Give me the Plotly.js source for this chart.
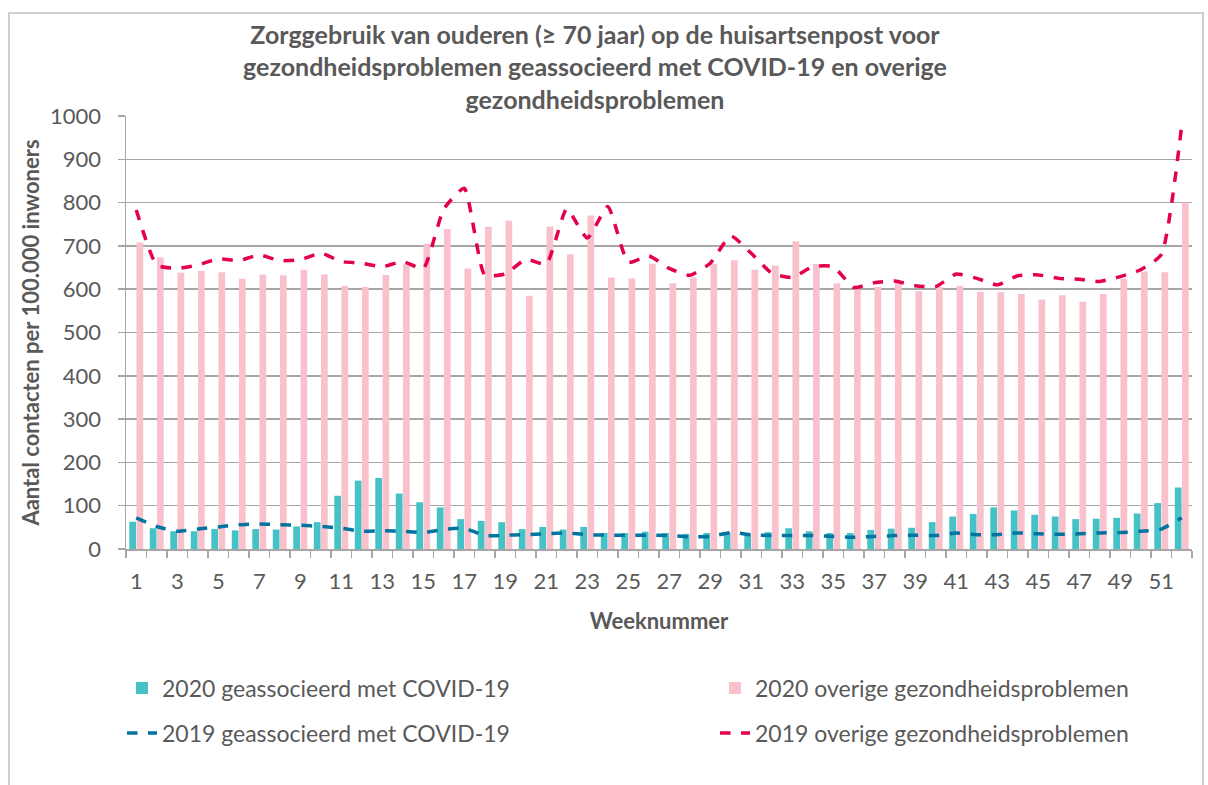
<!DOCTYPE html>
<html>
<head>
<meta charset="utf-8">
<script src="https://cdn.plot.ly/plotly-3.0.1.min.js"></script>
<style>html,body{margin:0;padding:0;background:#fff;}#chart{width:1208px;height:785px;}</style>
</head>
<body>
<div id="chart"></div>
<script>
const weeks = [1,2,3,4,5,6,7,8,9,10,11,12,13,14,15,16,17,18,19,20,21,22,23,24,25,26,27,28,29,30,31,32,33,34,35,36,37,38,39,40,41,42,43,44,45,46,47,48,49,50,51,52];
const tickWeeks = [1,3,5,7,9,11,13,15,17,19,21,23,25,27,29,31,33,35,37,39,41,43,45,47,49,51];

const covid2020 = [63,48,41,41,46,43,46,45,52,62,123,158,164,128,108,96,69,65,62,46,51,45,51,37,37,40,37,35,37,38,33,39,48,41,37,37,44,47,49,62,75,81,96,89,79,75,69,70,72,82,106,142];
const overige2020 = [708,673,638,642,639,624,634,632,645,634,608,605,633,658,705,739,648,744,758,585,745,681,770,627,625,659,614,627,658,667,645,655,711,658,614,600,605,615,595,605,608,594,593,589,576,586,571,589,624,641,639,800];
const covid2019 = [72,52,41,46,51,56,58,56,55,52,48,41,42,41,38,45,48,31,32,33,35,37,33,32,32,32,31,28,29,38,33,31,31,31,29,27,29,31,32,31,37,33,33,37,35,34,35,37,38,41,46,72];
const overige2019 = [783,656,648,656,670,666,679,666,668,683,664,660,652,664,648,785,833,633,635,669,658,785,718,791,662,677,648,632,660,723,683,637,627,652,652,604,615,619,608,606,635,625,610,631,633,625,623,618,629,645,680,979];

const names = ["2020 geassocieerd met COVID-19","2020 overige gezondheidsproblemen","2019 geassocieerd met COVID-19","2019 overige gezondheidsproblemen"];
const titleText = "Zorggebruik van ouderen (≥ 70 jaar) op de huisartsenpost voor<br>gezondheidsproblemen geassocieerd met COVID-19 en overige<br>gezondheidsproblemen";

const FONT = "Lato, 'Open Sans', sans-serif";
const GREY = "#595959";
const GRID = "#A6A6A6";

const traces = [
  {type:"bar", x:weeks, y:covid2020, name:names[0], marker:{color:"#45C2C5"}, legend:"legend"},
  {type:"bar", x:weeks, y:overige2020, name:names[1], marker:{color:"#F8C1CC"}, legend:"legend"},
  {type:"scatter", mode:"lines", x:weeks, y:covid2019, name:names[2], line:{color:"#0073A0", width:3.5, dash:"dash", shape:"spline", smoothing:0.5}, legend:"legend2"},
  {type:"scatter", mode:"lines", x:weeks, y:overige2019, name:names[3], line:{color:"#E4004B", width:3.5, dash:"dash", shape:"spline", smoothing:0.5}, legend:"legend2"}
];

const plotL = 126, plotR = 1192, plotT = 116, plotB = 549;
const pw = plotR - plotL, ph = plotB - plotT;
const px = v => (v - plotL) / pw;
const py = v => (plotB - v) / ph;

const legendCommon = {
  orientation:"h", xanchor:"left", yanchor:"middle",
  font:{family:FONT, size:23, color:GREY},
  entrywidth:548, entrywidthmode:"pixels",
  bgcolor:"rgba(0,0,0,0)", borderwidth:0, traceorder:"normal"
};

const layout = {
  width:1208, height:785,
  paper_bgcolor:"#ffffff", plot_bgcolor:"#ffffff",
  margin:{l:plotL, r:1208-plotR, t:plotT, b:785-plotB, autoexpand:false},
  font:{family:FONT, color:GREY},
  title:{text:titleText, font:{family:FONT, size:25, color:GREY, weight:"bold"}, x:595/1208, xanchor:"center", xref:"container", y:0.944, yanchor:"top", yref:"container"},
  barmode:"group", bargap:0.3, bargroupgap:0.06,
  showlegend:true,
  legend:Object.assign({x:px(122), y:py(688)}, legendCommon),
  legend2:Object.assign({x:px(122), y:py(733)}, legendCommon),
  xaxis:{
    range:[0.5,52.5], tickvals:tickWeeks, ticktext:tickWeeks.map(String),
    ticks:"", showgrid:false, zeroline:false,
    showline:true, linecolor:GRID, linewidth:1.5,
    tickfont:{family:FONT, size:22, color:GREY}, ticklabelstandoff:12,
    minor:{tick0:0.5, dtick:1, ticks:"outside", ticklen:7, tickcolor:GRID, tickwidth:1.5, showgrid:false},
    title:{text:"Weeknummer", font:{family:FONT, size:22, color:GREY, weight:"bold"}, standoff:20}
  },
  yaxis:{
    range:[0,1000], dtick:100, tick0:0,
    showgrid:true, gridcolor:GRID, gridwidth:1.5, zeroline:false,
    showline:true, linecolor:GRID, linewidth:1.5,
    ticks:"outside", ticklen:7, tickcolor:GRID, tickwidth:1.5,
    tickfont:{family:FONT, size:22, color:GREY}, ticklabelstandoff:12,
    title:{text:"Aantal contacten per 100.000 inwoners", font:{family:FONT, size:22, color:GREY, weight:"bold"}, standoff:4}
  },
  shapes:[
    {type:"rect", xref:"paper", yref:"paper", x0:px(9), x1:px(1203), y0:py(800), y1:py(13), line:{color:"#BFBFBF", width:1.5}, fillcolor:"rgba(0,0,0,0)", layer:"below"}
  ]
};

Plotly.newPlot("chart", traces, layout, {displayModeBar:false, staticPlot:true});
</script>
</body>
</html>
